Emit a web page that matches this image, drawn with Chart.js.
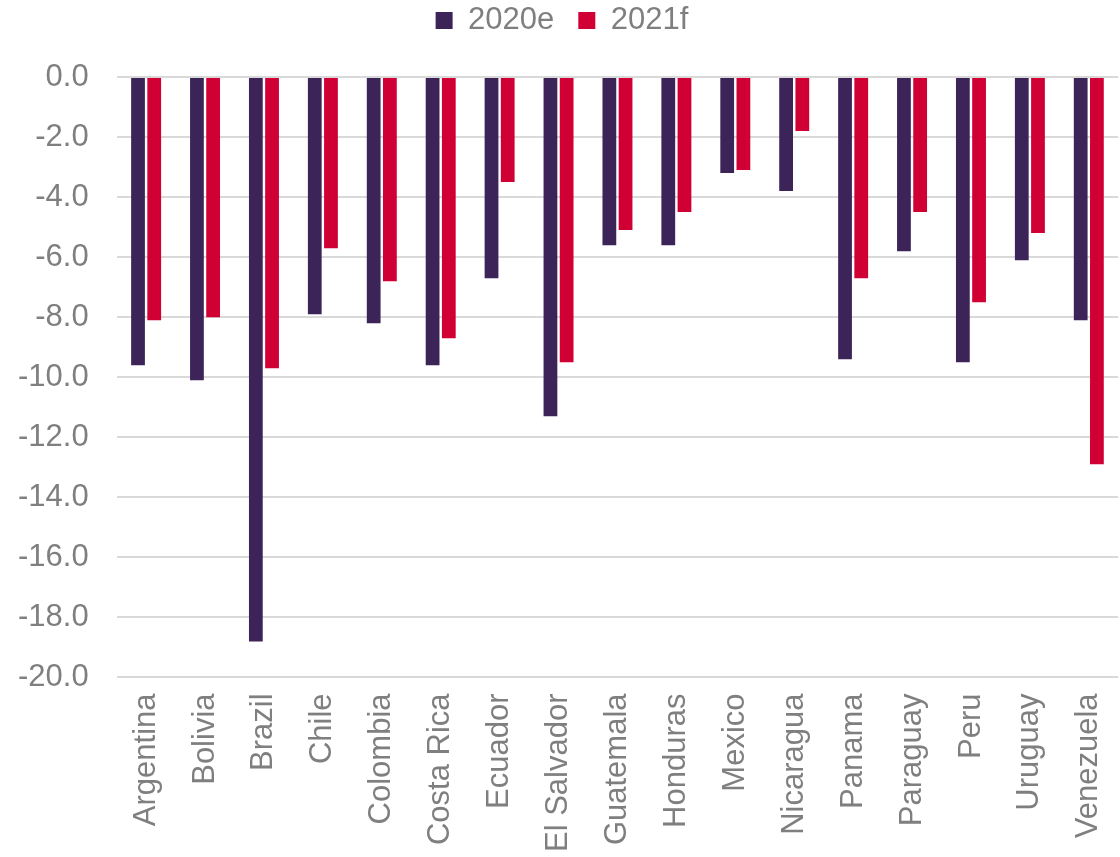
<!DOCTYPE html>
<html lang="en">
<head>
  <meta charset="UTF-8">
  <title>GDP growth 2020e / 2021f</title>
  <script src="https://cdn.jsdelivr.net/npm/chart.js"></script>
  <style>
    html, body { margin: 0; padding: 0; background: #fff; overflow: hidden; }
    .chart-box { position: relative; width: 1134px; height: 860px; }
  </style>
</head>
<body>
  <div class="chart-box">
    <canvas id="barChart"></canvas>
  </div>

<script>
const countries = ['Argentina', 'Bolivia', 'Brazil', 'Chile', 'Colombia', 'Costa Rica', 'Ecuador',
  'El Salvador', 'Guatemala', 'Honduras', 'Mexico', 'Nicaragua', 'Panama', 'Paraguay', 'Peru',
  'Uruguay', 'Venezuela'];
const values2020e = [-9.6, -10.1, -18.8, -7.9, -8.2, -9.6, -6.7, -11.3, -5.6, -5.6, -3.2, -3.8, -9.4, -5.8, -9.5, -6.1, -8.1];
const values2021f = [-8.1, -8.0, -9.7, -5.7, -6.8, -8.7, -3.5, -9.5, -5.1, -4.5, -3.1, -1.8, -6.7, -4.5, -7.5, -5.2, -12.9];
const seriesNames = ['2020e', '2021f'];

const textGray = '#7f7f7f';
const fontFamily = '"Liberation Sans", Arial, sans-serif';

// extra room below the legend
const legendSpacer = {
  id: 'legendSpacer',
  beforeInit(chart) {
    const origFit = chart.legend.fit;
    chart.legend.fit = function () {
      origFit.bind(chart.legend)();
      this.height += 31;
    };
  }
};

const ctx = document.getElementById('barChart').getContext('2d');
new Chart(ctx, {
  type: 'bar',
  data: {
    labels: countries,
    datasets: [
      { label: seriesNames[0], data: values2020e, backgroundColor: '#3c2459', categoryPercentage: 0.55, barPercentage: 0.85 },
      { label: seriesNames[1], data: values2021f, backgroundColor: '#d10034', categoryPercentage: 0.55, barPercentage: 0.85 }
    ]
  },
  options: {
    responsive: true,
    maintainAspectRatio: false,
    animation: false,
    layout: { padding: { left: -10, top: -19, right: 0, bottom: 0 } },
    plugins: {
      legend: {
        position: 'top',
        labels: { color: textGray, font: { family: fontFamily, size: 31 }, boxWidth: 17, boxHeight: 17, padding: 24 }
      },
      tooltip: { enabled: false }
    },
    scales: {
      x: {
        grid: { display: false },
        border: { display: false },
        ticks: { color: textGray, font: { family: fontFamily, size: 31 }, minRotation: 90, maxRotation: 90, autoSkip: false, padding: 8 }
      },
      y: {
        min: -20,
        max: 0,
        grid: { color: '#d9d9d9', lineWidth: 2, drawTicks: false },
        border: { display: false },
        ticks: {
          stepSize: 2,
          color: textGray,
          font: { family: fontFamily, size: 31 },
          padding: 28,
          callback: v => v.toFixed(1)
        }
      }
    }
  },
  plugins: [legendSpacer]
});
</script>
</body>
</html>
